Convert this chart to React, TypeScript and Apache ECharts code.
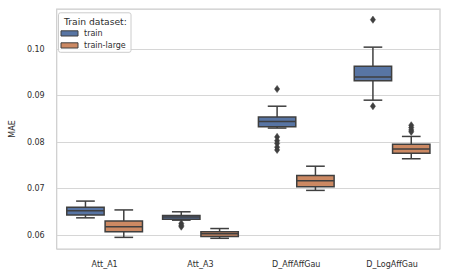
import React, { useEffect, useRef } from "react";
import * as echarts from "echarts";

const categories = ["Att_A1", "Att_A3", "D_AffAffGau", "D_LogAffGau"];
const hueNames = ["train", "train-large"];
const hueColors = ["#5875a4", "#cc8963"];

// [min whisker, Q1, median, Q3, max whisker]
const trainStats = [
  [0.0637, 0.0643, 0.0652, 0.066, 0.0673],
  [0.0632, 0.0634, 0.0639, 0.0642, 0.065],
  [0.083, 0.0833, 0.0844, 0.0854, 0.0877],
  [0.089, 0.0932, 0.094, 0.0963, 0.1004],
];
const trainLargeStats = [
  [0.0595, 0.0607, 0.0618, 0.063, 0.0654],
  [0.0593, 0.0597, 0.0603, 0.0607, 0.0614],
  [0.0696, 0.0704, 0.0717, 0.0728, 0.0748],
  [0.0764, 0.0776, 0.0785, 0.0795, 0.0812],
];
// [category index, value]
const trainOutliers = [
  [1, 0.0625], [1, 0.0621], [1, 0.0618],
  [2, 0.0914], [2, 0.0811], [2, 0.0803], [2, 0.0797], [2, 0.0789], [2, 0.0783],
  [3, 0.1063], [3, 0.0877],
];
const trainLargeOutliers = [
  [3, 0.0836], [3, 0.0831], [3, 0.0826], [3, 0.0822],
];

const EDGE = "#3f3f3f";
const FONT = "DejaVu Sans";
const TEXT = "#2e2e2e";

function boxSeries(stats: number[][], hue: number) {
  const offset = hue === 0 ? -0.2 : 0.2;
  return {
    type: "custom",
    name: hueNames[hue],
    data: stats.map((s, i) => [i, ...s]),
    encode: { x: 0, y: [1, 2, 3, 4, 5] },
    renderItem: (params: any, api: any) => {
      const ci = api.value(0);
      const bw = api.size([1, 0])[0];
      const cx = api.coord([ci, 0])[0] + offset * bw;
      const w = bw * 0.39;
      const y = (k: number) => api.coord([ci, api.value(k)])[1];
      const yMin = y(1), yQ1 = y(2), yMed = y(3), yQ3 = y(4), yMax = y(5);
      const lineStyle = { stroke: EDGE, lineWidth: 1.5 };
      return {
        type: "group",
        children: [
          { type: "line", shape: { x1: cx, y1: yQ3, x2: cx, y2: yMax }, style: lineStyle },
          { type: "line", shape: { x1: cx, y1: yQ1, x2: cx, y2: yMin }, style: lineStyle },
          { type: "line", shape: { x1: cx - w / 4, y1: yMax, x2: cx + w / 4, y2: yMax }, style: lineStyle },
          { type: "line", shape: { x1: cx - w / 4, y1: yMin, x2: cx + w / 4, y2: yMin }, style: lineStyle },
          {
            type: "rect",
            shape: { x: cx - w / 2, y: yQ3, width: w, height: yQ1 - yQ3 },
            style: { fill: hueColors[hue], stroke: EDGE, lineWidth: 1.5 },
          },
          { type: "line", shape: { x1: cx - w / 2, y1: yMed, x2: cx + w / 2, y2: yMed }, style: lineStyle },
        ],
      };
    },
  };
}

function outlierSeries(points: number[][], hue: number) {
  const offset = hue === 0 ? -0.2 : 0.2;
  return {
    type: "custom",
    name: hueNames[hue] + " outliers",
    data: points,
    encode: { x: 0, y: 1 },
    renderItem: (params: any, api: any) => {
      const ci = api.value(0);
      const bw = api.size([1, 0])[0];
      const p = api.coord([ci, api.value(1)]);
      const cx = p[0] + offset * bw;
      const cy = p[1];
      const hw = 2.6, hh = 3.6;
      return {
        type: "polygon",
        shape: { points: [[cx, cy - hh], [cx + hw, cy], [cx, cy + hh], [cx - hw, cy]] },
        style: { fill: EDGE, stroke: EDGE, lineWidth: 0.5 },
      };
    },
  };
}

export default function App() {
  const ref = useRef<HTMLDivElement>(null);
  useEffect(() => {
    if (!ref.current) return;
    const chart = echarts.init(ref.current, null, { renderer: "svg" });
    chart.setOption({
      animation: false,
      backgroundColor: "#ffffff",
      textStyle: { fontFamily: FONT },
      grid: {
        left: 54, right: 10, top: 9, bottom: 30,
        show: true, borderColor: "#cccccc", borderWidth: 1.2, backgroundColor: "transparent",
      },
      xAxis: {
        type: "category",
        data: categories,
        axisLine: { show: false },
        axisTick: { show: false },
        splitLine: { show: false },
        axisLabel: { fontSize: 8, color: TEXT, fontFamily: FONT, margin: 11 },
      },
      yAxis: {
        type: "value",
        min: 0.057,
        max: 0.1086,
        name: "MAE",
        nameLocation: "middle",
        nameGap: 35,
        nameRotate: 90,
        nameTextStyle: { fontSize: 8, color: TEXT, fontFamily: FONT },
        axisLine: { show: false },
        axisTick: { show: false },
        splitLine: { show: true, lineStyle: { color: "#d6d6d6", width: 1 } },
        axisLabel: {
          fontSize: 8,
          color: TEXT,
          fontFamily: FONT,
          margin: 12,
          showMinLabel: false,
          showMaxLabel: false,
          formatter: (v: number) => {
            const r = Math.round(v * 100) / 100;
            return Math.abs(r - v) < 1e-6 ? r.toFixed(2) : "";
          },
        },
      },
      series: [
        boxSeries(trainStats, 0),
        boxSeries(trainLargeStats, 1),
        outlierSeries(trainOutliers, 0),
        outlierSeries(trainLargeOutliers, 1),
      ],
      graphic: [
        {
          type: "rect",
          shape: { x: 58.5, y: 12.8, width: 72.5, height: 39.5, r: 2 },
          style: { fill: "rgba(255,255,255,0.8)", stroke: "#cccccc", lineWidth: 1 },
          z: 100,
        },
        {
          type: "text",
          x: 64, y: 21,
          style: { text: "Train dataset:", fontSize: 9.2, fill: TEXT, fontFamily: FONT, verticalAlign: "middle", textAlign: "left" },
          z: 101,
        },
        {
          type: "rect",
          shape: { x: 61, y: 30.8, width: 17, height: 5.2 },
          style: { fill: hueColors[0], stroke: EDGE, lineWidth: 1 },
          z: 101,
        },
        {
          type: "text",
          x: 84, y: 33.5,
          style: { text: hueNames[0], fontSize: 8, fill: TEXT, fontFamily: FONT, verticalAlign: "middle", textAlign: "left" },
          z: 101,
        },
        {
          type: "rect",
          shape: { x: 61, y: 42.8, width: 17, height: 5.2 },
          style: { fill: hueColors[1], stroke: EDGE, lineWidth: 1 },
          z: 101,
        },
        {
          type: "text",
          x: 84, y: 45.5,
          style: { text: hueNames[1], fontSize: 8, fill: TEXT, fontFamily: FONT, verticalAlign: "middle", textAlign: "left" },
          z: 101,
        },
      ],
    });
    return () => chart.dispose();
  }, []);
  return (
    <div
      ref={ref}
      style={{ position: "fixed", left: 0, top: 0, width: 450, height: 279 }}
    />
  );
}
